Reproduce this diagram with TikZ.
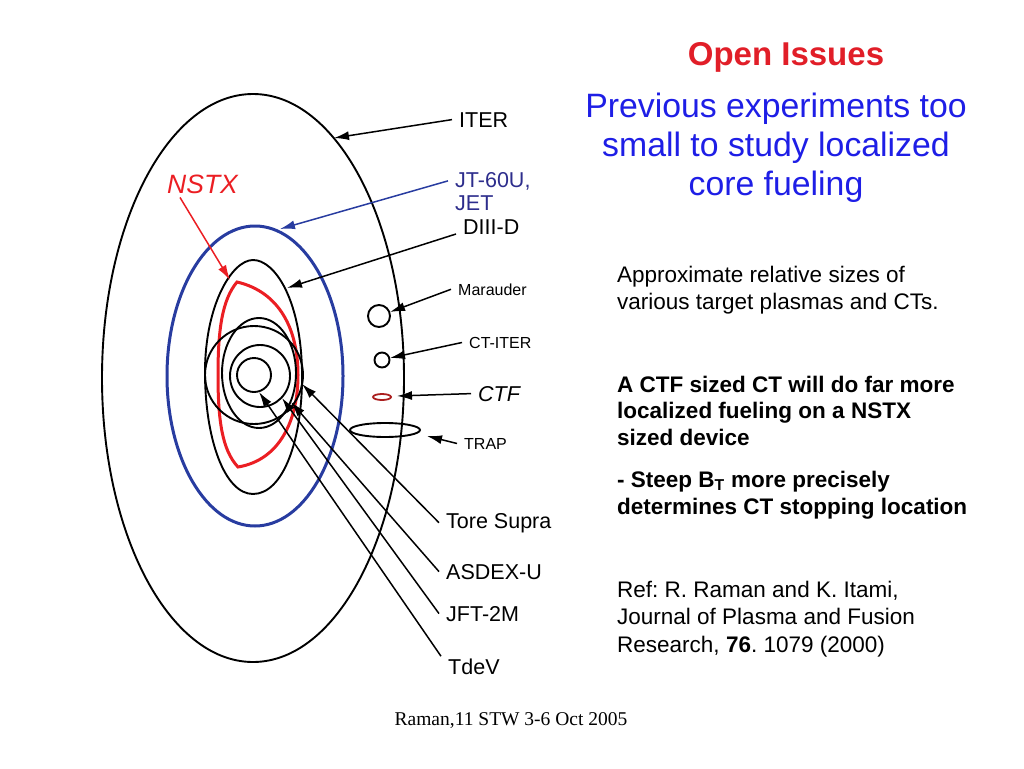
\documentclass[tikz,border=0pt]{standalone}
\usepackage{fontspec}
\setmainfont{Liberation Sans}
\newfontfamily\timesfont{Liberation Serif}
\usetikzlibrary{arrows.meta}
\definecolor{nstxred}{RGB}{235,30,35}
\definecolor{jtblue}{RGB}{40,60,160}
\definecolor{jttext}{RGB}{45,45,140}
\definecolor{titleblue}{RGB}{30,30,230}
\definecolor{openred}{RGB}{225,30,40}
\definecolor{ctfred}{RGB}{170,30,30}
\frenchspacing

\begin{document}
\begin{tikzpicture}[x=1pt,y=-1pt,
    lbl/.style={anchor=base west, inner xsep=7pt, inner ysep=2pt, font=\fontsize{21.5}{25}\selectfont},
    slbl/.style={lbl, font=\fontsize{16}{19}\selectfont},
    ptr/.style={line width=1.5pt, -{Latex[length=15pt,width=9pt]}},
    plasma/.style={line width=1.9pt},
    body/.style={anchor=north west, inner sep=0pt, align=left, font=\fontsize{22.5}{27.5}\selectfont}]

    \useasboundingbox (0,0) rectangle (1024,768);

    % plasma cross sections
    \draw[plasma] (253,378) ellipse [x radius=151pt, y radius=284pt];
    \draw[jtblue, line width=3pt] (255,376) ellipse [x radius=88pt, y radius=150pt];
    \draw[plasma] (253,260) .. controls (275,260) and (301,300) .. (302,372)
        .. controls (303,440) and (283,494) .. (253,494)
        .. controls (225,494) and (205,440) .. (205,372)
        .. controls (205,305) and (232,260) .. (253,260) -- cycle;
    \draw[nstxred, line width=3pt] (237,282) .. controls (280,292) and (298,330) .. (298,375)
        .. controls (298,420) and (280,460) .. (238,467)
        .. controls (222,450) and (218,420) .. (218,375)
        .. controls (218,330) and (222,300) .. (237,282) -- cycle;
    \draw[plasma] (254,375) circle [radius=49pt];
    \draw[plasma] (259,373) ellipse [x radius=37pt, y radius=55pt];
    \draw[plasma] (260,376) ellipse [x radius=30pt, y radius=31pt];
    \draw[plasma] (254,375) circle [radius=17pt];

    % CTs
    \draw[plasma] (379,316) circle [radius=11pt];
    \draw[plasma] (382,360) circle [radius=7.5pt];
    \draw[ctfred, line width=1.8pt] (382,397) ellipse [x radius=9pt, y radius=3pt];
    \draw[plasma] (385,430) ellipse [x radius=35pt, y radius=7pt];

    \coordinate (tIter) at (334,138);
    \coordinate (tJt) at (280,229);
    \coordinate (tDiii) at (287,288);
    \coordinate (tNstx) at (230,280);
    \coordinate (tMar) at (390,312);
    \coordinate (tCti) at (390,358);
    \coordinate (tCtf) at (397,396);
    \coordinate (tTrap) at (427,436);
    \coordinate (tTs) at (302,384);
    \coordinate (tAs) at (291,402);
    \coordinate (tJf) at (282,398);
    \coordinate (tTd) at (259,392);

    \node[lbl, inner sep=0pt, nstxred, font=\fontsize{26.5}{30}\selectfont\itshape] (nstx) at (167,193) {NSTX};
    \node[lbl] (iter) at (452,127) {ITER};
    \node[lbl, jttext] (jt) at (448,187) {JT-60U,};
    \node[lbl, jttext] (jet) at (448,210) {JET};
    \node[lbl] (diii) at (456,234) {DIII-D};
    \node[slbl] (mar) at (451,295) {Marauder};
    \node[slbl] (cti) at (462,348) {CT-ITER};
    \node[lbl, font=\fontsize{21.5}{25}\selectfont\itshape] (ctf) at (471,401) {CTF};
    \node[slbl] (trap) at (457,449) {TRAP};
    \node[lbl] (ts) at (439,528) {Tore Supra};
    \node[lbl] (as) at (439,579) {ASDEX-U};
    \node[lbl] (jf) at (439,621) {JFT-2M};
    \node[lbl] (td) at (441,674) {TdeV};

    \draw[ptr, nstxred] ([xshift=13pt,yshift=-4pt]nstx.south west) -- (tNstx);
    \draw[ptr] (iter.west) -- (tIter);
    \draw[ptr, jtblue] (jt.west) -- (tJt);
    \draw[ptr] (diii.base west) -- (tDiii);
    \draw[ptr] (mar.west) -- (tMar);
    \draw[ptr] (cti.west) -- (tCti);
    \draw[ptr] (ctf.west) -- (tCtf);
    \draw[ptr] (trap.west) -- (tTrap);
    \draw[ptr] (ts.west) -- (tTs);
    \draw[ptr] (as.west) -- (tAs);
    \draw[ptr] (jf.west) -- (tJf);
    \draw[ptr] (td.north west) -- (tTd);

    % text on the right
    \node[anchor=base, inner sep=0pt, text=openred, font=\fontsize{33}{40}\selectfont\bfseries] (open) at (786,65) {Open Issues};
    \node[anchor=north, inner sep=0pt, align=center, text=titleblue, font=\fontsize{33.8}{39}\selectfont] (prev) at (776,92.5) {Previous experiments too\\small to study localized\\core fueling};
    \node[body] (approx) at (617,265.6) {Approximate relative sizes of\\various target plasmas and CTs.};
    \node[body, font=\fontsize{22.5}{26.5}\selectfont\bfseries] (sized) at (617,375.6) {A CTF sized CT will do far more\\localized fueling on a NSTX\\sized device};
    \node[body, font=\fontsize{22.5}{27.5}\selectfont\bfseries] (steep) at (617,470.6) {- Steep B\textsubscript{T} more precisely\\determines CT stopping location};
    \node[body] (ref) at (617,580.6) {Ref: R. Raman and K. Itami,\\Journal of Plasma and Fusion\\Research, \textbf{76}. 1079 (2000)};
    \node[anchor=base, inner sep=0pt, font=\timesfont\fontsize{19.5}{22}\selectfont] (foot) at (511,725) {Raman,11 STW 3-6 Oct 2005};

\end{tikzpicture}
\end{document}
